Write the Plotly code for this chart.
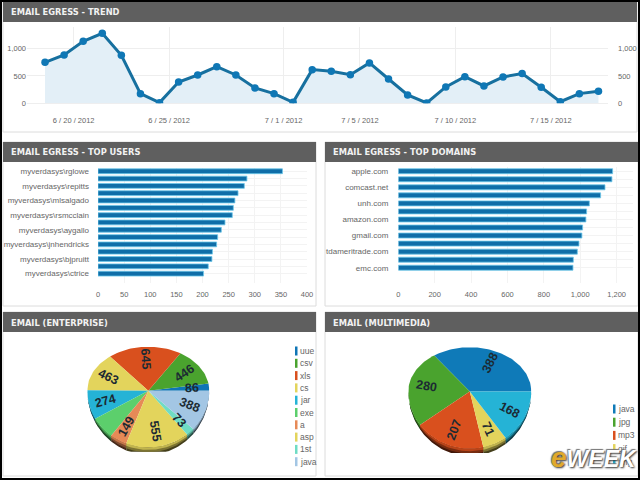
import math
import plotly.graph_objects as go

W, H = 640, 480

# Daily egress trend
trend_dates = ["2012-06-%02d 12:00" % d for d in range(18, 31)] + ["2012-07-%02d 12:00" % d for d in range(1, 18)]
trend_values = [750, 884, 1134, 1280, 878, 177, 12, 390, 518, 670, 518, 280, 177, 18, 616,
                585, 524, 738, 445, 152, 6, 300, 488, 317, 482, 543, 293, 30, 177, 220]
trend_tick_dates = ["2012-06-20", "2012-06-25", "2012-07-01", "2012-07-05", "2012-07-10", "2012-07-15"]
trend_tick_labels = ["6 / 20 / 2012", "6 / 25 / 2012", "7 / 1 / 2012", "7 / 5 / 2012", "7 / 10 / 2012", "7 / 15 / 2012"]

# Top users
user_labels = ["myverdasys\\rglowe", "", "myverdasys\\repitts", "", "myverdasys\\mlsalgado", "",
               "myverdasys\\rsmcclain", "", "myverdasys\\aygallo", "", "myverdasys\\jnhendricks", "",
               "myverdasys\\bjpruitt", "", "myverdasys\\ctrice"]
user_values = [353, 285, 280, 268, 262, 259, 257, 243, 236, 229, 227, 219, 218, 211, 202]

# Top domains
domain_labels = ["apple.com", "", "comcast.net", "", "unh.com", "", "amazon.com", "", "gmail.com", "",
                 "tdameritrade.com", "", "emc.com"]
domain_values = [1178, 1174, 1136, 1112, 1050, 1035, 1031, 1013, 1009, 993, 984, 962, 960]

# File types
enterprise_names = ["uue", "csv", "xls", "cs", "jar", "exe", "a", "asp", "1st", "java"]
enterprise_values = [86, 446, 645, 463, 274, 210, 149, 555, 73, 388]
enterprise_colors = ["#0f75b5", "#4aa32e", "#d9501e", "#e3d45c", "#25b3d6", "#5ccf6c", "#e68a57", "#e3d45c", "#6fdcc4", "#a3c6e4"]
enterprise_labelled = [True, True, True, True, True, False, True, True, True, True]

multimedia_names = ["java", "jpg", "mp3", "gif", "png"]
multimedia_values = [388, 280, 207, 71, 168]
multimedia_colors = ["#0f7ab8", "#4aa32e", "#d9501e", "#e3d45c", "#25b3d6"]

GREY = "#666666"
GRID = "#eeeeee"
BLUE = "#0f6ea8"


def px(x):
    return x / W


def py(y):
    return 1 - y / H


def darker(color, k):
    r, g, b = (int(color[i:i + 2], 16) for i in (1, 3, 5))
    return "rgb(%d,%d,%d)" % (r * k, g * k, b * k)


shapes = []
annotations = []


def panel(x0, y0, x1, y1, title):
    shapes.append(dict(type="rect", xref="paper", yref="paper", x0=px(x0), x1=px(x1), y0=py(y1), y1=py(y0),
                       fillcolor="white", line=dict(color="#dcdcdc", width=1), layer="below"))
    shapes.append(dict(type="rect", xref="paper", yref="paper", x0=px(x0), x1=px(x1), y0=py(y0 + 20), y1=py(y0),
                       fillcolor="#5f5f5f", line=dict(width=0), layer="below"))
    annotations.append(dict(xref="paper", yref="paper", x=px(x0 + 5.5), y=py(y0 + 10.5), text=title, showarrow=False,
                            xanchor="left", yanchor="middle",
                            font=dict(family="DejaVu Sans", size=8.3, color="#f2f2f2", weight="bold")))


panel(3, 2, 637, 132, "EMAIL EGRESS - TREND")
panel(3, 142, 316, 306, "EMAIL EGRESS - TOP USERS")
panel(325, 142, 638, 306, "EMAIL EGRESS - TOP DOMAINS")
panel(3, 312, 316, 476, "EMAIL (ENTERPRISE)")
panel(325, 312, 638, 476, "EMAIL (MULTIMEDIA)")

fig = go.Figure()

# Trend: filled line on a date axis, with the value scale repeated on the right
fig.add_trace(go.Scatter(x=trend_dates, y=trend_values, mode="lines+markers", fill="tozeroy",
                         fillcolor="#e3eff7", line=dict(color="#17709f", width=3),
                         marker=dict(color="#0f77b5", size=7.5), xaxis="x", yaxis="y", showlegend=False))
fig.add_trace(go.Scatter(x=trend_dates, y=trend_values, mode="lines", line=dict(width=0), opacity=0,
                         xaxis="x", yaxis="y2", showlegend=False))

# Ranked bars
fig.add_trace(go.Bar(x=user_values, y=list(range(len(user_values))), orientation="h", width=0.66,
                     marker=dict(color=BLUE, line=dict(color="#6cc8ea", width=0.8)), xaxis="x3", yaxis="y3",
                     showlegend=False))
fig.add_trace(go.Bar(x=domain_values, y=list(range(len(domain_values))), orientation="h", width=0.62,
                     marker=dict(color=BLUE, line=dict(color="#6cc8ea", width=0.8)), xaxis="x4", yaxis="y4",
                     showlegend=False))


def arc_points(a0, a1, ry_top, ry_bottom, drop=0.0):
    """Outline of an elliptical arc; the half above the centre is flatter than the half below."""
    steps = max(2, int(abs(a1 - a0) / 2))
    xs, ys = [], []
    for i in range(steps + 1):
        a = math.radians(a0 + (a1 - a0) * i / steps)
        s = math.sin(a)
        xs.append(math.cos(a))
        ys.append(s * (ry_top if s > 0 else ry_bottom) - drop * max(0.0, -s))
    return xs, ys


def tilted_pie(values, colors, labelled, xaxis, yaxis):
    total = sum(values)
    ry_top, ry_bottom = 0.72, 0.93
    start = 0.0
    spans = []
    for v in values:
        spans.append((start, start + v / total * 360))
        start += v / total * 360

    # Rim: bands under the lower edge, darkest at the bottom
    for drop, shade in ((0.12, 0.3), (0.08, 0.55), (0.04, 0.85)):
        for (a0, a1), c in zip(spans, colors):
            lo, hi = max(a0, 180), a1
            if hi <= lo:
                continue
            x1, y1 = arc_points(lo, hi, ry_top, ry_bottom)
            x2, y2 = arc_points(hi, lo, ry_top, ry_bottom, drop)
            fig.add_trace(go.Scatter(x=x1 + x2, y=y1 + y2, mode="lines", fill="toself",
                                     fillcolor=darker(c, shade), line=dict(width=0), hoverinfo="skip",
                                     xaxis=xaxis, yaxis=yaxis, showlegend=False))

    # Top surface and its value labels
    for (a0, a1), c, v, show in zip(spans, colors, values, labelled):
        xs, ys = arc_points(a0, a1, ry_top, ry_bottom)
        fig.add_trace(go.Scatter(x=[0] + xs + [0], y=[0] + ys + [0], mode="lines", fill="toself", fillcolor=c,
                                 line=dict(width=0), hoverinfo="skip", xaxis=xaxis, yaxis=yaxis, showlegend=False))
        if not show:
            continue
        mid = (a0 + a1) / 2
        lx, ly = arc_points(mid, mid, ry_top, ry_bottom)
        angle = 180 - mid if 90 < mid < 270 else -mid
        annotations.append(dict(xref=xaxis, yref=yaxis, x=lx[0] * 0.72, y=ly[0] * 0.72, text=str(v), showarrow=False,
                                textangle=angle,
                                font=dict(family="Liberation Sans", size=12.5, color="#1c2a33", weight="bold")))


tilted_pie(enterprise_values, enterprise_colors, enterprise_labelled, "x5", "y5")
tilted_pie(multimedia_values, multimedia_colors, [True] * 5, "x6", "y6")


def pie_legend(names, colors, x, y_first, step):
    for i, (name, color) in enumerate(zip(names, colors)):
        y = y_first + i * step
        shapes.append(dict(type="rect", xref="paper", yref="paper", x0=px(x), x1=px(x + 2.5),
                           y0=py(y + 4.5), y1=py(y - 4.5), fillcolor=color, line=dict(width=0)))
        annotations.append(dict(xref="paper", yref="paper", x=px(x + 3), y=py(y), text=name, showarrow=False,
                                xanchor="left", yanchor="middle",
                                font=dict(family="Liberation Sans", size=8.5, color=GREY)))


pie_legend(enterprise_names, enterprise_colors, 295, 351, 12.3)
pie_legend(multimedia_names, multimedia_colors, 613, 409, 13.2)

# Publisher mark over the corner of the last panel
annotations.append(dict(xref="paper", yref="paper", x=px(549), y=py(457), xanchor="left", yanchor="middle",
                        showarrow=False,
                        text="<b><i><span style='color:#e0a92c;font-size:28px'>e</span>WEEK</i></b>",
                        font=dict(family="Liberation Sans", size=23, color="white",
                                  shadow="1px 1px 2px #333333, -1px -1px 1px #777777")))

# Thin dark frame around the whole dashboard
shapes.append(dict(type="rect", xref="paper", yref="paper", x0=px(1), x1=px(639), y0=py(479), y1=py(1),
                   line=dict(color="black", width=2), fillcolor="rgba(0,0,0,0)"))

tick_font = dict(family="Liberation Sans", size=7.5, color=GREY)
label_font = dict(family="Liberation Sans", size=8, color=GREY)


def xdom(a, b):
    return [px(a), px(b)]


def ydom(top, bottom):
    return [py(bottom), py(top)]


def hidden(**kw):
    return dict(visible=False, fixedrange=True, **kw)


fig.update_layout(
    template="none",
    width=W, height=H, autosize=False, margin=dict(l=0, r=0, t=0, b=0),
    paper_bgcolor="white", plot_bgcolor="rgba(0,0,0,0)", shapes=shapes, annotations=annotations,
    xaxis=dict(domain=xdom(27, 608), type="date", range=["2012-06-17 13:20", "2012-07-18 00:00"],
               tickvals=trend_tick_dates, ticktext=trend_tick_labels, showgrid=True, gridcolor=GRID,
               zeroline=False, showline=False, tickfont=tick_font, ticks="", anchor="y", ticklabelstandoff=11),
    yaxis=dict(domain=ydom(27, 103.3), range=[0, 1396], tickvals=[0, 500, 1000], ticktext=["0", "500", "1,000"],
               gridcolor=GRID, zeroline=True, zerolinecolor=GRID, tickfont=tick_font, anchor="x"),
    yaxis2=dict(domain=ydom(27, 103.3), range=[0, 1396], tickvals=[0, 500, 1000], ticktext=["0", "500", "1,000"],
                overlaying="y", side="right", showgrid=False, zeroline=False, tickfont=tick_font, anchor="x",
                ticklabelstandoff=9),
    xaxis3=dict(domain=xdom(98, 307), range=[0, 400], tickvals=list(range(0, 401, 50)), gridcolor="#f3f3f3",
                zeroline=False, tickfont=tick_font, anchor="y3", ticklabelstandoff=5),
    yaxis3=dict(domain=ydom(167.6, 283), range=[15.28, -0.5], tickvals=list(range(len(user_labels))),
                ticktext=user_labels, gridcolor="#f3f3f3", zeroline=False, tickfont=label_font, anchor="x3",
                ticklabelstandoff=8),
    xaxis4=dict(domain=xdom(398.3, 633), range=[0, 1290], tickvals=list(range(0, 1201, 200)),
                ticktext=["0", "200", "400", "600", "800", "1,000", "1,200"], gridcolor="#f3f3f3",
                zeroline=False, tickfont=tick_font, anchor="y4", ticklabelstandoff=5),
    yaxis4=dict(domain=ydom(167.2, 283), range=[13.9, -0.5], tickvals=list(range(len(domain_labels))),
                ticktext=domain_labels, gridcolor="#f3f3f3", zeroline=False, tickfont=label_font, anchor="x4",
                ticklabelstandoff=9),
    xaxis5=hidden(domain=xdom(87.3, 209.3), range=[-1, 1], anchor="y5"),
    yaxis5=hidden(domain=ydom(329.7, 451.7), range=[-1, 1], anchor="x5"),
    xaxis6=hidden(domain=xdom(408.3, 531.3), range=[-1, 1], anchor="y6"),
    yaxis6=hidden(domain=ydom(330, 453), range=[-1, 1], anchor="x6"),
)

fig.write_html("out.html", config=dict(displayModeBar=False))
